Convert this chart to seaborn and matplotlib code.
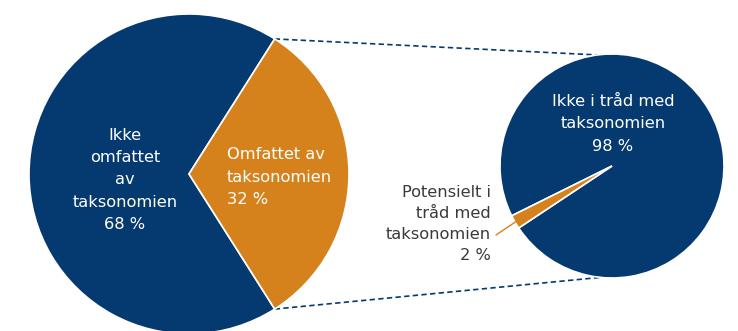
import numpy as np
import matplotlib
matplotlib.use("Agg")
import matplotlib.pyplot as plt
import seaborn as sns

# Overall split of activities
main_labels = ["Ikke\nomfattet\nav\ntaksonomien", "Omfattet av\ntaksonomien"]
main_values = [68, 32]

# Breakdown of the covered part
detail_labels = ["Ikke i tråd med\ntaksonomien", "Potensielt i\ntråd med\ntaksonomien"]
detail_values = [98, 2]

NAVY = "#053A70"
ORANGE = "#D5821D"
GREY = "#3A3A3A"

sns.set_theme(style="white")
plt.rcParams["font.family"] = ["DejaVu Sans"]

W, H = 738, 331
fig = plt.figure(figsize=(W / 100, H / 100), dpi=100)
ax = fig.add_axes([0, 0, 1, 1])

colors = [NAVY, ORANGE]
wp = dict(edgecolor="white", linewidth=1.2)

# Left pie: the covered slice is centred on the right-hand side
c1, r1 = (189, 157), 160
start1 = main_values[1] / sum(main_values) * 360 / 2
w1, _ = ax.pie(main_values, colors=colors, startangle=start1, center=c1,
               radius=r1, wedgeprops=wp, frame=True)

# Right pie: the small slice points down-left
c2, r2 = (612, 165), 112
mid2 = 210
start2 = mid2 + detail_values[1] / sum(detail_values) * 360 / 2
w2, _ = ax.pie(detail_values, colors=colors, startangle=start2, center=c2,
               radius=r2, wedgeprops=wp, frame=True)

ax.set_xlim(0, W)
ax.set_ylim(0, H)
ax.set_aspect("equal")
ax.axis("off")


def on_circle(c, r, deg):
    a = np.deg2rad(deg)
    return c[0] + r * np.cos(a), c[1] + r * np.sin(a)


# Dashed connectors from the covered slice to the breakdown pie
orange_wedge = w1[1]
p_top = on_circle(c1, r1, orange_wedge.theta2)
p_bot = on_circle(c1, r1, orange_wedge.theta1)
q_top = on_circle(c2, r2, 97.5)
q_bot = on_circle(c2, r2, 264)
for p, q in [(p_top, q_top), (p_bot, q_bot)]:
    ax.plot([p[0], q[0]], [p[1], q[1]], color=NAVY, lw=1.2,
            dashes=(3.2, 2.0), solid_capstyle="butt", zorder=0)

fs = 11.7
ax.text(125, 151, main_labels[0] + f"\n{main_values[0]} %", color="white",
        ha="center", va="center", fontsize=fs, linespacing=1.62)
ax.text(227, 154, main_labels[1] + f"\n{main_values[1]} %", color="white",
        ha="left", va="center", fontsize=fs, linespacing=1.62)
ax.text(613, 207, detail_labels[0] + f"\n{detail_values[0]} %", color="white",
        ha="center", va="center", fontsize=fs, linespacing=1.62)
ax.text(491, 107, detail_labels[1] + f"\n{detail_values[1]} %", color=GREY,
        ha="right", va="center", fontsize=fs, linespacing=1.5)

# Leader line from the small slice to its label
edge = on_circle(c2, r2 * 0.97, mid2)
ax.plot([496, edge[0]], [96, edge[1]], color=ORANGE, lw=1.0)

fig.savefig("out.png", dpi=100, facecolor="white")
